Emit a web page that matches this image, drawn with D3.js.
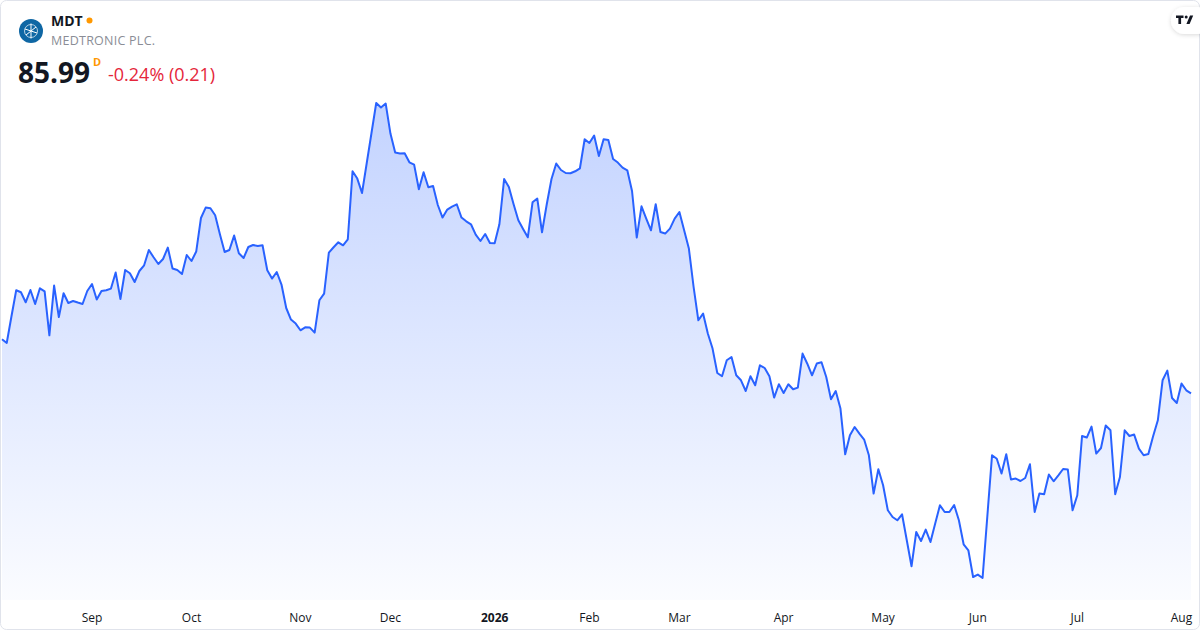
<!DOCTYPE html>
<html>
<head>
<meta charset="utf-8">
<script src="https://cdn.jsdelivr.net/npm/d3@7"></script>
<style>
  html, body { margin: 0; padding: 0; background: #fff; }
  svg { display: block; font-family: "Open Sans", "Noto Sans", sans-serif; }
</style>
</head>
<body>
<svg id="chart" width="1200" height="630"></svg>
<script>
'use strict';

// daily closes, Aug 5 2025 .. Aug 5 2026
const closes = [
  89.77, 89.51, 91.38, 93.20, 93.06, 92.36, 93.22, 92.24, 93.34, 93.13,
  90.05, 93.53, 91.33, 92.99, 92.31, 92.45, 92.34, 92.24, 93.15, 93.64,
  92.55, 93.15, 93.20, 93.32, 94.44, 92.59, 94.62, 94.39, 93.78, 94.55,
  94.95, 96.02, 95.51, 95.04, 95.39, 96.19, 94.72, 94.62, 94.34, 95.67,
  95.25, 95.91, 98.26, 98.99, 98.94, 98.45, 97.12, 95.88, 96.02, 97.03,
  95.79, 95.46, 96.23, 96.37, 96.30, 96.35, 94.60, 94.02, 94.48, 93.60,
  91.96, 91.15, 90.87, 90.40, 90.61, 90.59, 90.24, 92.50, 92.97, 95.84,
  96.21, 96.56, 96.35, 96.77, 101.53, 101.02, 100.01, 102.11, 104.21, 106.31,
  105.99, 106.27, 104.17, 102.84, 102.77, 102.79, 102.16, 102.00, 100.27, 101.46,
  100.41, 100.50, 99.17, 98.29, 98.85, 99.06, 99.22, 98.29, 98.03, 97.82,
  97.10, 96.65, 97.14, 96.51, 96.49, 97.82, 100.99, 100.43, 99.22, 98.10,
  97.49, 96.91, 99.36, 99.62, 97.26, 99.22, 100.99, 102.07, 101.62, 101.41,
  101.39, 101.53, 101.74, 103.77, 103.51, 104.03, 102.60, 103.77, 103.72, 102.39,
  102.14, 101.79, 101.60, 100.15, 96.89, 99.08, 98.22, 97.40, 99.22, 97.28,
  97.17, 97.52, 98.22, 98.68, 97.40, 96.12, 93.43, 91.10, 91.57, 90.17,
  89.12, 87.41, 87.18, 88.30, 88.53, 87.25, 86.90, 86.15, 87.18, 86.55,
  87.95, 87.76, 87.18, 85.69, 86.62, 86.01, 86.62, 86.27, 86.39, 88.77,
  88.06, 87.25, 88.07, 88.16, 87.13, 85.57, 86.15, 84.92, 81.72, 83.05,
  83.63, 83.17, 82.75, 81.65, 78.97, 80.67, 79.55, 77.80, 77.33, 77.10,
  77.52, 75.70, 73.88, 76.28, 75.65, 76.45, 75.58, 76.87, 78.15, 77.68,
  77.68, 78.17, 77.10, 75.42, 75.00, 73.13, 73.30, 73.06, 77.36, 81.65,
  81.41, 80.37, 81.72, 79.95, 80.02, 79.85, 80.06, 81.02, 77.68, 78.97,
  78.92, 80.30, 79.83, 80.25, 80.69, 80.65, 77.80, 78.85, 83.00, 82.89,
  83.66, 81.77, 82.16, 83.73, 83.40, 78.92, 80.13, 83.40, 83.00, 83.10,
  82.12, 81.65, 81.74, 82.98, 84.10, 86.90, 87.58, 85.66, 85.31, 86.67,
  86.20, 85.99
];

const firstDay = "2025-08-05";
const holidays = ["2025-09-01", "2025-11-27", "2025-12-25", "2026-01-01", "2026-01-19",
  "2026-02-16", "2026-04-03", "2026-05-25", "2026-06-19", "2026-07-03"];
const monthNames = ["Jan", "Feb", "Mar", "Apr", "May", "Jun", "Jul", "Aug", "Sep", "Oct", "Nov", "Dec"];

const symbol = "MDT";
const company = "MEDTRONIC PLC.";
const lastPrice = "85.99";
const interval = "D";
const change = "-0.24% (0.21)";

const W = 1200, H = 630;
const plot = {left: 2, right: 1191, top: 103, bottom: 578, base: 600};

// trading days
const fmt = d3.timeFormat("%Y-%m-%d");
const dates = [];
let d = d3.timeParse("%Y-%m-%d")(firstDay);
while (dates.length < closes.length) {
  const wd = d.getDay();
  if (wd !== 0 && wd !== 6 && holidays.indexOf(fmt(d)) < 0) dates.push(new Date(d));
  d = d3.timeDay.offset(d, 1);
}
const data = closes.map((c, i) => ({i: i, date: dates[i], close: c}));

const svg = d3.select("#chart");

const x = d3.scaleLinear().domain([0, data.length - 1]).range([plot.left, plot.right]);
const y = d3.scaleLinear().domain(d3.extent(closes)).range([plot.bottom, plot.top]);

// gradient fill
const defs = svg.append("defs");
const grad = defs.append("linearGradient")
  .attr("id", "fill")
  .attr("gradientUnits", "userSpaceOnUse")
  .attr("x1", 0).attr("x2", 0)
  .attr("y1", plot.top).attr("y2", plot.base);
grad.append("stop").attr("offset", "0%").attr("stop-color", "#2962ff").attr("stop-opacity", 0.28);
grad.append("stop").attr("offset", "100%").attr("stop-color", "#2962ff").attr("stop-opacity", 0.02);

const clip = defs.append("clipPath").attr("id", "card");
clip.append("rect").attr("x", 1).attr("y", 1).attr("width", W - 2).attr("height", H - 2).attr("rx", 6);

const g = svg.append("g").attr("clip-path", "url(#card)");

const area = d3.area()
  .x(p => x(p.i))
  .y0(plot.base)
  .y1(p => y(p.close));

const line = d3.line()
  .x(p => x(p.i))
  .y(p => y(p.close));

g.append("path")
  .datum(data)
  .attr("d", area)
  .attr("fill", "url(#fill)");

g.append("path")
  .datum(data)
  .attr("d", line)
  .attr("fill", "none")
  .attr("stroke", "#2962ff")
  .attr("stroke-width", 2)
  .attr("stroke-linejoin", "round");

// month labels at first trading day of each month
const ticks = data.filter((p, k) => k > 0 && p.date.getMonth() !== data[k - 1].date.getMonth());
g.selectAll("text.tick")
  .data(ticks)
  .enter().append("text")
  .attr("class", "tick")
  .attr("x", p => x(p.i))
  .attr("y", 622)
  .attr("text-anchor", "middle")
  .attr("font-size", 12)
  .attr("fill", "#131722")
  .attr("font-weight", p => p.date.getMonth() === 0 ? 700 : 400)
  .text(p => p.date.getMonth() === 0 ? p.date.getFullYear() : monthNames[p.date.getMonth()]);

// card border
svg.append("rect")
  .attr("x", 0.5).attr("y", 0.5)
  .attr("width", W - 1).attr("height", H - 1)
  .attr("rx", 6)
  .attr("fill", "none")
  .attr("stroke", "#e0e3eb");

// header
const head = svg.append("g");
head.append("circle").attr("cx", 31).attr("cy", 31).attr("r", 12).attr("fill", "#0f67a4");
const icon = head.append("g").attr("stroke", "#fff").attr("stroke-width", 1).attr("fill", "none");
icon.append("circle").attr("cx", 31).attr("cy", 31).attr("r", 6.5).attr("stroke-width", 0.7);
icon.append("line").attr("x1", 31).attr("y1", 23.5).attr("x2", 31).attr("y2", 38.5);
icon.append("line").attr("x1", 25).attr("y1", 29).attr("x2", 37).attr("y2", 33);
icon.append("line").attr("x1", 26).attr("y1", 35).attr("x2", 36).attr("y2", 27);

head.append("text").attr("x", 51).attr("y", 26)
  .attr("font-size", 14).attr("font-weight", 700).attr("fill", "#131722")
  .text(symbol);
head.append("circle").attr("cx", 89.5).attr("cy", 20.5).attr("r", 3).attr("fill", "#ff9800");
head.append("text").attr("x", 51).attr("y", 45)
  .attr("font-size", 12.5).attr("fill", "#8a8d96").attr("letter-spacing", 0.25)
  .text(company);
head.append("text").attr("x", 18).attr("y", 83)
  .attr("font-size", 28).attr("font-weight", 700).attr("fill", "#131722")
  .text(lastPrice);
head.append("text").attr("x", 93).attr("y", 66)
  .attr("font-size", 11).attr("font-weight", 700).attr("fill", "#ff9800")
  .text(interval);
head.append("text").attr("x", 108).attr("y", 81)
  .attr("font-size", 18).attr("fill", "#e5263b")
  .text(change);

// TradingView badge, top right
const badge = svg.append("g");
defs.append("filter").attr("id", "shadow").attr("x", "-50%").attr("y", "-50%").attr("width", "200%").attr("height", "200%")
  .append("feDropShadow").attr("dx", 0).attr("dy", 1).attr("stdDeviation", 2).attr("flood-color", "#000").attr("flood-opacity", 0.15);
badge.append("rect").attr("x", 1171).attr("y", 7).attr("width", 40).attr("height", 27).attr("rx", 13.5)
  .attr("fill", "#fff").attr("filter", "url(#shadow)");
badge.append("path").attr("fill", "#131722")
  .attr("d", "M1176 15.5h7.5v2.6h-2.4v6h-2.7v-6h-2.4z M1190 15.5h3.2l-3.6 8.6h-3.2z");
badge.append("circle").attr("cx", 1186.2).attr("cy", 17).attr("r", 1.5).attr("fill", "#131722");
</script>
</body>
</html>
